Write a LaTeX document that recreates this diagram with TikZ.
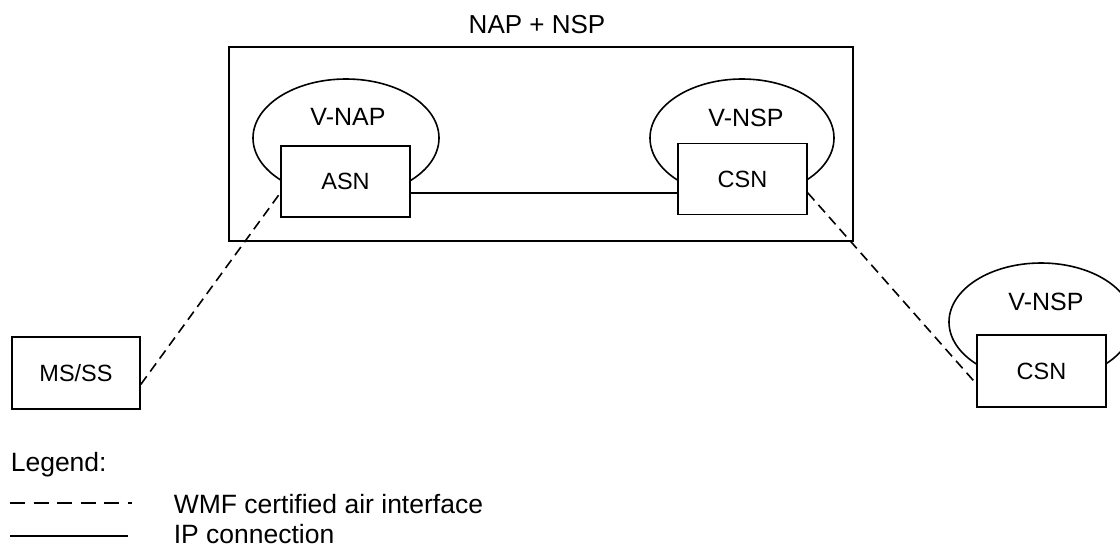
\documentclass[tikz,border=0pt]{standalone}
\usepackage{fontspec}
\setmainfont{Liberation Sans}
\usetikzlibrary{shapes.geometric, calc}

\begin{document}
\begin{tikzpicture}[x=1pt, y=-1pt, line width=1.6pt,
  netbox/.style={draw, fill=white, minimum width=129pt, minimum height=71pt,
    inner sep=0pt, font=\fontsize{23.5}{28}\selectfont},
  areaoval/.style={draw, ellipse, minimum width=186pt, minimum height=118pt, inner sep=0pt},
  areatext/.style={anchor=base, inner sep=0pt, font=\fontsize{25}{30}\selectfont},
  legendtext/.style={anchor=base west, inner sep=0pt, font=\fontsize{26.5}{32}\selectfont},
  airlink/.style={dash pattern=on 10pt off 6pt},
  legenddash/.style={dash pattern=on 15pt off 8.5pt}]

  % page size
  \useasboundingbox (0,0) rectangle (1120,547);
  \clip (0,0) rectangle (1120,547);

  % NAP + NSP frame
  \node[draw, minimum width=624pt, minimum height=194pt, inner sep=0pt] (napnsp) at (541,144) {};
  \node[areatext, font=\fontsize{26}{31}\selectfont] (naptitle) at (537,33) {NAP + NSP};

  % visited domains (ellipses first, boxes on top)
  \node[areaoval] (vnap) at (346,138) {};
  \node[areaoval, minimum width=184pt] (vnsp) at (742,138) {};
  \node[areaoval, minimum width=184pt] (vnspr) at (1041,322) {};

  \node[areatext] (vnaptxt) at (348,125) {V-NAP};
  \node[areatext] (vnsptxt) at (746,126) {V-NSP};
  \node[areatext] (vnsprtxt) at (1046,310) {V-NSP};

  % network elements
  \node[netbox] (asn) at (345.5,181.5) {ASN};
  \node[netbox] (csn) at (742.5,179) {CSN};
  \node[netbox, minimum height=72pt] (csnr) at (1041.5,371) {CSN};
  \node[netbox, minimum width=128pt, minimum height=72pt] (msss) at (76,373) {MS/SS};

  % IP connection
  \draw (asn.350) -- (asn.350 -| csn.west);

  % air interface links
  \draw[airlink] (msss.-10) -- (asn.190);
  \draw[airlink] (csn.-12) -- (csnr.191);

  % legend
  \node[legendtext] (legend) at (10,471) {Legend:};
  \node[legendtext] (wmf) at (173,513) {WMF certified air interface};
  \node[legendtext] (ipconn) at (173,543.5) {IP connection};
  \draw[legenddash] (10,503) -- (132,503);
  \draw (10,536) -- (128,536);

\end{tikzpicture}
\end{document}
